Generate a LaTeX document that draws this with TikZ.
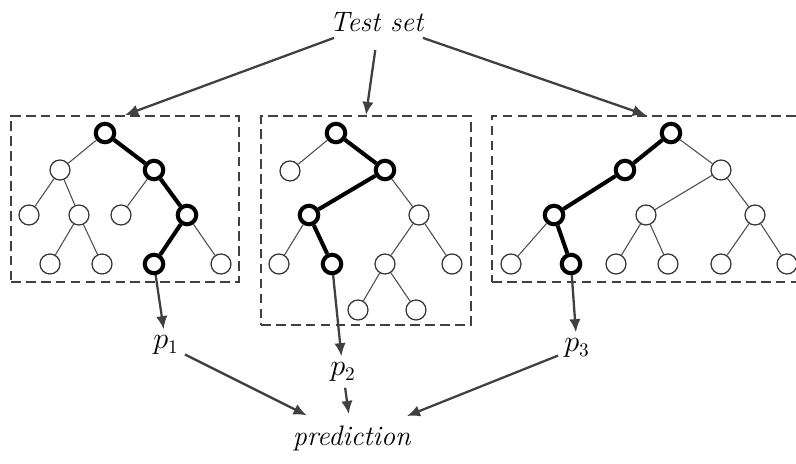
\documentclass[tikz,border=0pt]{standalone}
\usetikzlibrary{arrows.meta,positioning}

\begin{document}
\begin{tikzpicture}[
			x=0.02cm,y=-0.02cm,
			font=\fontsize{16}{19}\selectfont,
			box/.style={
				rectangle,draw=black!75,dash pattern=on 5.5pt off 3pt,
				line width=1.1pt,inner sep=0pt
			},
			leaf/.style={
				circle,draw=black!80,fill=white,line width=0.7pt,
				minimum size=0.4cm,inner sep=0pt
			},
			hot/.style={
				circle,draw=black,fill=white,line width=2.3pt,
				minimum size=0.37cm,inner sep=0pt
			},
			thin/.style={draw=black!70,line width=0.6pt},
			thick/.style={draw=black,line width=2.3pt},
			arrow/.style={-{Latex[length=7.5pt,width=6.5pt]},draw=black!75,line width=1.3pt}
			]
			
			\useasboundingbox (0,0) rectangle (796,464);
			
			\node[box,minimum width=4.56cm,minimum height=3.32cm] (box1) at (125,199) {};
			\node[box,minimum width=4.2cm,minimum height=4.18cm] (box2) at (366,220.5) {};
			\node[box,minimum width=6.16cm,minimum height=3.32cm] (box3) at (646,199) {};
			
			\node (test) at (377,22) {\textit{Test set}};
			\node (p1) at (166,345) {$p_1$};
			\node (p2) at (343,372) {$p_2$};
			\node (p3) at (577,348) {$p_3$};
			\node (pred) at (352,438) {\textit{prediction}};
			
			\node[hot] (t1a) at (105,133) {};
			\node[leaf] (t1b) at (60,170) {};
			\node[hot] (t1c) at (154,170) {};
			\node[leaf] (t1d) at (29,215) {};
			\node[leaf] (t1e) at (79,215) {};
			\node[leaf] (t1f) at (121,215) {};
			\node[hot] (t1g) at (187,215) {};
			\node[leaf] (t1h) at (50,264) {};
			\node[leaf] (t1i) at (102,264) {};
			\node[hot] (t1j) at (154,264) {};
			\node[leaf] (t1k) at (221,264) {};
			
			\node[hot] (t2a) at (336,133) {};
			\node[leaf] (t2b) at (290,171) {};
			\node[hot] (t2c) at (385,170) {};
			\node[hot] (t2d) at (309,215) {};
			\node[leaf] (t2e) at (419,215) {};
			\node[leaf] (t2f) at (279,264) {};
			\node[hot] (t2g) at (332,264) {};
			\node[leaf] (t2h) at (385,264) {};
			\node[leaf] (t2i) at (452,264) {};
			\node[leaf] (t2j) at (358,310) {};
			\node[leaf] (t2k) at (416,310) {};
			
			\node[hot] (t3a) at (671,133) {};
			\node[hot] (t3b) at (625,170) {};
			\node[leaf] (t3c) at (721,170) {};
			\node[hot] (t3d) at (554,215) {};
			\node[leaf] (t3e) at (646,215) {};
			\node[leaf] (t3f) at (755,215) {};
			\node[leaf] (t3g) at (511,264) {};
			\node[hot] (t3h) at (571,264) {};
			\node[leaf] (t3i) at (616,264) {};
			\node[leaf] (t3j) at (668,264) {};
			\node[leaf] (t3k) at (721,264) {};
			\node[leaf] (t3l) at (787,264) {};
			
			\draw[thin] (t1a) -- (t1b);
			\draw[thick] (t1a) -- (t1c);
			\draw[thin] (t1b) -- (t1d);
			\draw[thin] (t1b) -- (t1e);
			\draw[thin] (t1c) -- (t1f);
			\draw[thick] (t1c) -- (t1g);
			\draw[thin] (t1e) -- (t1h);
			\draw[thin] (t1e) -- (t1i);
			\draw[thick] (t1g) -- (t1j);
			\draw[thin] (t1g) -- (t1k);
			
			\draw[thin] (t2a) -- (t2b);
			\draw[thick] (t2a) -- (t2c);
			\draw[thick] (t2c) -- (t2d);
			\draw[thin] (t2c) -- (t2e);
			\draw[thin] (t2d) -- (t2f);
			\draw[thick] (t2d) -- (t2g);
			\draw[thin] (t2e) -- (t2h);
			\draw[thin] (t2e) -- (t2i);
			\draw[thin] (t2h) -- (t2j);
			\draw[thin] (t2h) -- (t2k);
			
			\draw[thick] (t3a) -- (t3b);
			\draw[thin] (t3a) -- (t3c);
			\draw[thick] (t3b) -- (t3d);
			\draw[thin] (t3c) -- (t3e);
			\draw[thin] (t3c) -- (t3f);
			\draw[thin] (t3d) -- (t3g);
			\draw[thick] (t3d) -- (t3h);
			\draw[thin] (t3e) -- (t3i);
			\draw[thin] (t3e) -- (t3j);
			\draw[thin] (t3f) -- (t3k);
			\draw[thin] (t3f) -- (t3l);
			
			\draw[arrow] (test) -- (box1.north);
			\draw[arrow,shorten <=7pt] (test.south) -- (box2.north);
			\draw[arrow] (test) -- (box3.north);
			
			\draw[arrow] (t1j) -- (p1);
			\draw[arrow] (t2g) -- (p2);
			\draw[arrow] (t3h) -- (p3);
			
			\draw[arrow,shorten >=5pt] (p1) -- (pred);
			\draw[arrow,shorten >=3pt] (p2) -- (pred);
			\draw[arrow,shorten >=5pt] (p3) -- (pred);
			
		\end{tikzpicture}
\end{document}
